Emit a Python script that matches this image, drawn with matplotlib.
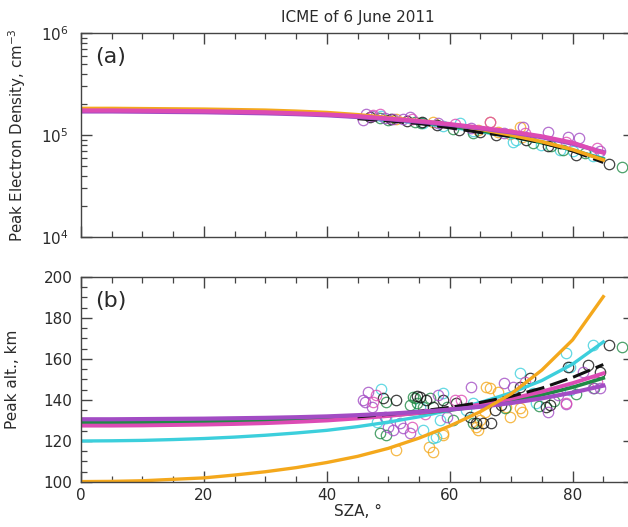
import matplotlib
matplotlib.use("Agg")
import matplotlib.pyplot as plt
from matplotlib.ticker import MultipleLocator, LogLocator, NullFormatter

plt.rcParams['font.family'] = ['DejaVu Sans']

# model curves, sampled every 5 degrees of SZA
sza_fit = [0, 5, 10, 15, 20, 25, 30, 35, 40, 45, 50, 55, 60, 65, 70, 75, 80, 85]
sza_fit_blk = [45, 50, 55, 60, 65, 70, 75, 80, 85]

# (a) peak density, cm^-3
ne_org = [1.82e5, 1.82e5, 1.81e5, 1.80e5, 1.79e5, 1.77e5, 1.75e5, 1.71e5, 1.66e5, 1.58e5, 1.48e5, 1.38e5, 1.27e5, 1.14e5, 1.00e5, 8.6e4, 7.2e4, 5.7e4]
ne_pur = [1.70e5, 1.70e5, 1.69e5, 1.68e5, 1.67e5, 1.65e5, 1.63e5, 1.60e5, 1.56e5, 1.50e5, 1.43e5, 1.35e5, 1.26e5, 1.16e5, 1.06e5, 9.5e4, 8.2e4, 6.8e4]
ne_pnk = [1.74e5, 1.74e5, 1.73e5, 1.72e5, 1.71e5, 1.69e5, 1.67e5, 1.63e5, 1.59e5, 1.53e5, 1.45e5, 1.37e5, 1.28e5, 1.18e5, 1.08e5, 9.7e4, 8.4e4, 6.7e4]
ne_grn = [1.76e5, 1.76e5, 1.75e5, 1.74e5, 1.73e5, 1.71e5, 1.69e5, 1.65e5, 1.60e5, 1.53e5, 1.44e5, 1.34e5, 1.22e5, 1.10e5, 9.7e4, 8.4e4, 7.1e4, 5.8e4]
ne_cyn = [1.75e5, 1.75e5, 1.74e5, 1.73e5, 1.72e5, 1.70e5, 1.67e5, 1.63e5, 1.57e5, 1.50e5, 1.41e5, 1.31e5, 1.20e5, 1.08e5, 9.6e4, 8.4e4, 7.1e4, 5.9e4]
ne_blk = [1.45e5, 1.38e5, 1.30e5, 1.18e5, 1.06e5, 9.7e4, 8.4e4, 7.0e4, 5.4e4]

# (b) peak altitude, km
hm_org = [100.2, 100.3, 100.6, 101.3, 102.0, 103.4, 105.0, 107.0, 109.5, 112.5, 116.4, 121.4, 127.3, 134.3, 143.0, 154.6, 169.3, 190.4]
hm_cyn = [120.0, 120.1, 120.3, 120.7, 121.2, 121.9, 122.8, 123.9, 125.2, 127.0, 129.2, 131.8, 135.0, 138.8, 143.5, 149.5, 157.5, 168.3]
hm_grn = [129.0, 129.0, 129.1, 129.2, 129.4, 129.6, 129.9, 130.3, 130.8, 131.5, 132.4, 133.6, 135.1, 137.0, 139.5, 142.5, 146.2, 150.7]
hm_pnk = [127.5, 127.5, 127.6, 127.8, 128.0, 128.3, 128.7, 129.3, 130.0, 131.0, 132.2, 133.7, 135.5, 137.8, 140.6, 144.1, 148.2, 153.0]
hm_pur = [130.6, 130.6, 130.7, 130.8, 130.9, 131.1, 131.3, 131.6, 132.0, 132.6, 133.3, 134.2, 135.3, 136.7, 138.5, 140.8, 143.6, 147.0]
hm_blk = [131.8, 133.0, 134.5, 136.4, 138.8, 141.8, 145.8, 151.0, 157.3]

# observations, (a)
obs_a_blk_x = [47.0, 50.5, 53.0, 55.5, 58.0, 61.5, 64.9, 67.6, 72.5, 76.0, 80.5, 86.0]
obs_a_blk_y = [1.50e5, 1.42e5, 1.36e5, 1.34e5, 1.24e5, 1.12e5, 1.07e5, 1.00e5, 8.9e4, 7.8e4, 6.4e4, 5.2e4]
obs_a_grn_x = [48.6, 50.0, 54.3, 55.4, 60.6, 63.8, 73.5, 76.5, 78.5, 82.0, 88.1]
obs_a_grn_y = [1.48e5, 1.40e5, 1.35e5, 1.31e5, 1.15e5, 1.05e5, 8.4e4, 7.8e4, 7.2e4, 6.6e4, 4.9e4]
obs_a_cyn_x = [48.9, 55.7, 58.9, 61.6, 63.8, 70.3, 70.8, 74.9, 77.9, 80.0, 83.3]
obs_a_cyn_y = [1.52e5, 1.32e5, 1.23e5, 1.30e5, 1.10e5, 8.6e4, 8.9e4, 7.9e4, 7.1e4, 6.9e4, 6.2e4]
obs_a_org_x = [51.3, 57.3, 64.6, 66.5, 67.9, 69.8, 71.4, 71.7]
obs_a_org_y = [1.42e5, 1.33e5, 1.12e5, 1.35e5, 1.08e5, 1.02e5, 1.20e5, 9.6e4]
obs_a_pur_x = [45.9, 46.4, 47.3, 49.4, 50.8, 52.4, 53.5, 58.1, 63.5, 68.9, 72.0, 76.0, 79.2, 81.1, 84.4]
obs_a_pur_y = [1.41e5, 1.62e5, 1.55e5, 1.47e5, 1.45e5, 1.43e5, 1.51e5, 1.32e5, 1.16e5, 1.05e5, 1.20e5, 1.07e5, 9.6e4, 9.3e4, 7.0e4]
obs_a_pnk_x = [47.5, 48.6, 53.8, 60.8, 66.5, 72.2, 79.0, 83.9]
obs_a_pnk_y = [1.58e5, 1.62e5, 1.42e5, 1.27e5, 1.35e5, 1.04e5, 8.6e4, 7.4e4]

# observations, (b)
obs_b_blk_x = [49.2, 51.3, 54.6, 55.1, 56.2, 57.3, 58.9, 61.1, 63.3, 64.3, 65.4, 66.8, 67.3, 68.4, 71.4, 73.0, 75.7, 76.3, 79.2, 82.5, 84.4, 86.0]
obs_b_blk_y = [140.8, 140.0, 141.8, 141.6, 140.0, 136.7, 140.0, 138.4, 131.9, 128.6, 128.6, 128.6, 135.1, 137.6, 146.5, 150.6, 136.7, 137.6, 156.3, 157.1, 153.8, 166.8]
obs_b_grn_x = [48.6, 49.7, 49.7, 53.5, 54.0, 54.3, 54.6, 55.7, 56.8, 59.5, 60.6, 63.8, 69.0, 74.6, 77.0, 80.5, 83.5, 88.1]
obs_b_grn_y = [123.7, 122.9, 139.2, 137.6, 141.6, 140.8, 138.4, 136.7, 141.0, 136.7, 130.2, 128.6, 136.0, 137.0, 139.5, 143.0, 146.0, 165.8]
obs_b_cyn_x = [48.1, 48.9, 49.7, 55.1, 55.7, 57.3, 57.8, 58.4, 58.9, 62.7, 63.8, 71.4, 73.6, 74.1, 79.0, 79.5, 79.5, 83.3]
obs_b_cyn_y = [129.4, 145.3, 131.1, 136.7, 125.4, 121.3, 122.1, 130.2, 143.3, 135.1, 138.4, 153.0, 143.3, 138.4, 162.8, 156.3, 144.9, 166.8]
obs_b_org_x = [51.3, 56.7, 57.3, 58.9, 58.9, 64.3, 64.6, 64.9, 65.7, 65.9, 66.5, 67.9, 69.2, 69.8, 71.4, 71.7]
obs_b_org_y = [115.6, 117.2, 114.8, 123.7, 122.9, 127.0, 125.5, 130.2, 134.3, 146.5, 145.7, 144.0, 136.7, 131.9, 136.0, 134.3]
obs_b_pur_x = [45.9, 46.2, 46.7, 47.3, 49.4, 50.0, 50.8, 51.9, 52.4, 53.5, 58.1, 59.5, 63.5, 68.9, 70.3, 76.0, 77.6, 79.0, 81.7, 83.3, 84.4]
obs_b_pur_y = [140.0, 139.2, 144.0, 136.7, 131.9, 127.0, 125.4, 128.6, 126.2, 123.7, 142.4, 131.5, 146.5, 148.1, 146.5, 134.3, 142.4, 138.0, 153.8, 146.0, 145.7]
obs_b_pnk_x = [47.5, 48.0, 53.8, 56.0, 60.8, 61.9, 72.2, 79.0, 83.9]
obs_b_pnk_y = [139.2, 142.5, 127.0, 133.0, 140.0, 140.0, 149.0, 138.4, 149.0]

C_ORG = '#f4a81c'
C_CYN = '#3ccfdc'
C_GRN = '#1f8a45'
C_PNK = '#dc4bb4'
C_PUR = '#a24cc4'
C_BLK = '#111111'
C_AX = '#444444'
C_TXT = '#2a2a2a'


def circles(ax, x, y, color):
    ax.plot(x, y, 'o', ms=7.5, mfc='none', mec=color, mew=0.9, alpha=0.8, clip_on=False)


def style_axes(ax):
    for s in ax.spines.values():
        s.set_color(C_AX)
        s.set_linewidth(1.0)
    ax.tick_params(which='both', direction='in', top=True, right=True, colors=C_AX,
                   labelcolor=C_TXT, labelsize=11)
    ax.tick_params(which='major', length=8, width=1)
    ax.tick_params(which='minor', length=4.5, width=0.9)
    ax.set_xlim(0, 90)
    ax.xaxis.set_major_locator(MultipleLocator(20))
    ax.xaxis.set_minor_locator(MultipleLocator(5))


fig = plt.figure(figsize=(6.28, 5.27), dpi=100)
ax1 = fig.add_axes([0.129, 0.5503, 0.8806, 0.3871])
ax2 = fig.add_axes([0.129, 0.0854, 0.8806, 0.3890])

# ---- (a)
style_axes(ax1)
ax1.set_yscale('log')
ax1.set_ylim(1e4, 1e6)
ax1.yaxis.set_major_locator(LogLocator(base=10))
ax1.yaxis.set_minor_locator(LogLocator(base=10, subs=range(2, 10)))
ax1.yaxis.set_minor_formatter(NullFormatter())
ax1.tick_params(axis='x', labelbottom=False)
ax1.tick_params(axis='y', pad=9)

circles(ax1, obs_a_org_x, obs_a_org_y, C_ORG)
circles(ax1, obs_a_cyn_x, obs_a_cyn_y, C_CYN)
circles(ax1, obs_a_grn_x, obs_a_grn_y, C_GRN)
circles(ax1, obs_a_blk_x, obs_a_blk_y, C_BLK)
circles(ax1, obs_a_pur_x, obs_a_pur_y, C_PUR)
circles(ax1, obs_a_pnk_x, obs_a_pnk_y, C_PNK)

ax1.plot(sza_fit, ne_cyn, color=C_CYN, lw=2.4)
ax1.plot(sza_fit, ne_grn, color=C_GRN, lw=2.4)
ax1.plot(sza_fit_blk, ne_blk, color=C_BLK, lw=2.4, dashes=(6, 2))
ax1.plot(sza_fit, ne_org, color=C_ORG, lw=2.6)
ax1.plot(sza_fit, ne_pur, color=C_PUR, lw=3.0)
ax1.plot(sza_fit, ne_pnk, color=C_PNK, lw=3.0)

ax1.text(0.025, 0.93, '(a)', transform=ax1.transAxes, fontsize=16, va='top', ha='left',
         color=C_TXT)
ax1.set_title('ICME of 6 June 2011', fontsize=11, pad=8, color=C_TXT)
ax1.set_ylabel('Peak Electron Density, cm$^{-3}$', fontsize=10.8, color=C_TXT)
ax1.yaxis.set_label_coords(-0.095, 0.5)

# ---- (b)
style_axes(ax2)
ax2.set_ylim(100, 200)
ax2.yaxis.set_major_locator(MultipleLocator(20))
ax2.yaxis.set_minor_locator(MultipleLocator(5))
ax2.tick_params(axis='y', pad=6)
ax2.tick_params(axis='x', pad=4)

circles(ax2, obs_b_org_x, obs_b_org_y, C_ORG)
circles(ax2, obs_b_cyn_x, obs_b_cyn_y, C_CYN)
circles(ax2, obs_b_grn_x, obs_b_grn_y, C_GRN)
circles(ax2, obs_b_blk_x, obs_b_blk_y, C_BLK)
circles(ax2, obs_b_pur_x, obs_b_pur_y, C_PUR)
circles(ax2, obs_b_pnk_x, obs_b_pnk_y, C_PNK)

ax2.plot(sza_fit, hm_cyn, color=C_CYN, lw=2.4)
ax2.plot(sza_fit, hm_grn, color=C_GRN, lw=2.6)
ax2.plot(sza_fit, hm_pnk, color=C_PNK, lw=2.8)
ax2.plot(sza_fit_blk, hm_blk, color=C_BLK, lw=2.2, dashes=(6, 2))
ax2.plot(sza_fit, hm_pur, color=C_PUR, lw=3.0)
ax2.plot(sza_fit, hm_org, color=C_ORG, lw=2.4)

ax2.text(0.025, 0.93, '(b)', transform=ax2.transAxes, fontsize=16, va='top', ha='left',
         color=C_TXT)
ax2.set_ylabel('Peak alt., km', fontsize=11, color=C_TXT)
ax2.yaxis.set_label_coords(-0.11, 0.5)
ax2.set_xlabel('SZA, °', fontsize=11, color=C_TXT, labelpad=1)

fig.savefig('out.png', dpi=100)
